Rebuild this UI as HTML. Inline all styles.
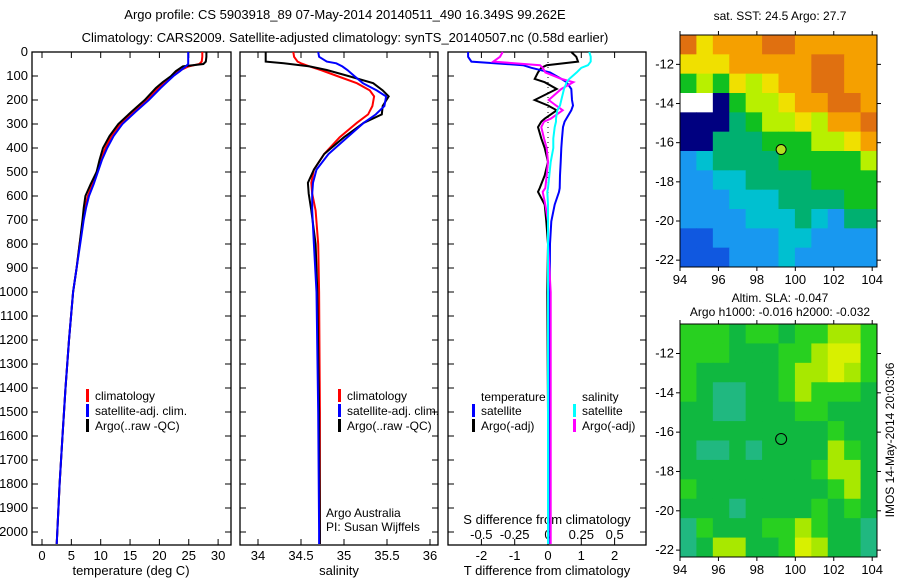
<!DOCTYPE html>
<html><head><meta charset="utf-8"><style>
body{margin:0;background:#fff;}
svg{display:block;font-family:"Liberation Sans",sans-serif;}
</style></head><body>
<svg id="c" width="900" height="580" viewBox="0 0 900 580">
<text x="345" y="19" font-size="13" text-anchor="middle">Argo profile: CS 5903918_89 07-May-2014 20140511_490 16.349S 99.262E</text>
<text x="345" y="42" font-size="13" text-anchor="middle">Climatology: CARS2009. Satellite-adjusted climatology: synTS_20140507.nc (0.58d earlier)</text>
<text x="780" y="20" font-size="12" text-anchor="middle">sat. SST: 24.5 Argo: 27.7</text>
<text x="780" y="302" font-size="12" text-anchor="middle">Altim. SLA: -0.047</text>
<text x="780" y="316" font-size="12" text-anchor="middle">Argo h1000: -0.016 h2000: -0.032</text>
<text transform="translate(894,440) rotate(-90)" font-size="12" text-anchor="middle">IMOS 14-May-2014 20:03:06</text>
<g id="g"></g>
</svg>
<script>
const depths=[0,20,40,50,60,80,100,125,150,200,250,300,350,400,450,500,550,600,650,700,800,900,1000,1200,1400,1600,1800,2000,2050];
const tempArgo=[28,28,27.9,27.5,24,22.8,22,20.6,19.4,17.5,15.2,13,11.5,10.4,9.8,9.3,8.3,7.4,7.1,6.9,6.4,5.9,5.3,4.6,4.0,3.5,3.0,2.6,2.5];
const tempClim=[27.3,27.3,27.2,26.8,25,23.2,22.2,21,19.8,17.8,15.5,13.3,11.8,10.8,10.0,9.3,8.6,7.8,7.3,7.0,6.4,5.9,5.3,4.6,4.0,3.5,3.0,2.6,2.5];
const tempSat=[24.9,24.9,24.9,24.9,24.5,23.5,22.4,21.3,20.2,18.2,15.9,13.7,12.2,11.1,10.2,9.5,8.8,8.0,7.5,7.1,6.5,5.9,5.3,4.6,4.0,3.5,3.0,2.6,2.5];
const sDepths=[0,20,40,47,60,75,100,130,160,185,225,260,295,355,425,490,545,590,660,800,1000,1500,2000,2050];
const salArgo=[34.09,34.09,34.09,34.3,34.6,34.8,35.05,35.34,35.45,35.52,35.45,35.44,35.23,35.0,34.77,34.65,34.58,34.59,34.62,34.67,34.69,34.71,34.72,34.72];
const salClim=[34.41,34.42,34.46,34.5,34.6,34.73,34.92,35.15,35.3,35.35,35.33,35.28,35.15,34.95,34.77,34.65,34.62,34.63,34.67,34.7,34.71,34.72,34.72,34.72];
const salSat=[34.70,34.71,34.8,34.91,34.98,35.04,35.12,35.22,35.38,35.49,35.47,35.37,35.23,35.04,34.82,34.68,34.64,34.63,34.63,34.65,34.68,34.7,34.71,34.71];
const dDepths=[0,20,40,55,66,85,112,126,154,200,223,243,278,290,313,360,400,458,514,567,583,636,706,800,1000,1500,2000,2050];
const dTSat=[-2.4,-2.4,-2.3,-0.75,-0.5,0.06,0.4,0.56,0.7,0.72,0.75,0.7,0.55,0.5,0.45,0.42,0.4,0.38,0.36,0.35,0.33,0.2,0.1,0.06,0.05,0.03,0.02,0.02];
const dTArgo=[0.7,0.85,0.9,-0.04,-0.2,-0.3,-0.4,-0.1,0.26,-0.4,0.0,0.26,-0.1,-0.2,-0.3,-0.2,-0.1,0,-0.1,-0.25,-0.3,-0.1,-0.05,0,-0.02,0,0.01,0.01];
const dSSat=[0.31,0.32,0.32,0.3,0.25,0.215,0.16,0.14,0.12,0.1,0.09,0.07,0.06,0.06,0.05,0.04,0.04,0.02,0.01,0,-0.005,0,0,0,0,0,0,0];
const dSArgo=[-0.34,-0.36,-0.41,-0.06,-0.04,-0.02,0.1,0.19,0.1,0.005,0.06,0.11,0.02,-0.03,-0.05,-0.03,-0.01,0.0,-0.01,-0.02,-0.04,-0.02,0.0,0.0,0.02,0.02,0.02,0.02];
const depthTicks=[0,100,200,300,400,500,600,700,800,900,1000,1100,1200,1300,1400,1500,1600,1700,1800,1900,2000];
const tempTicks=[0,5,10,15,20,25,30];
const salTicks=[34,34.5,35,35.5,36];
const salTickLabels=["34","34.5","35","35.5","36"];
const dTTicks=[-2,-1,0,1,2];
const dSTicks=[-0.5,-0.25,0,0.25,0.5];
const dSTickLabels=["-0.5","-0.25","0","0.25","0.5"];
const lonTicks=[94,96,98,100,102,104];
const latTicks=[-12,-14,-16,-18,-20,-22];
const sstRows=["RYOOORROOOOO","YYYOOOOORROO","GLGYLYOORROO","WWNGLLYOORRO","NNNgGLLYLOOR","NNgggGGGLLYO","BCggggGGGGGL","BBCCggggGGGG","BBBCCCggggGG","BBBBCCCgCBgg","bbBBBBCCBBBB","bbbBBBCBBBBB"];
const slaRows=["GGGgGGgGGLLG","GGGgggGGLYYG","GgggggGLLYLG","GgTTggGLGGGg","ggTTgggGGggg","gggggggggGgg","gTTgTggggLGg","ggggggggGLLg","GggggggggGLg","gggTggggGgGg","TGgggGGLGggT","TgLLggGYLggT"];
const sstColors={R:"#e07010",O:"#f5a000",Y:"#f0e000",L:"#b8f000",G:"#10c020",g:"#00b070",C:"#00c0d0",B:"#1898f0",b:"#1058e0",N:"#000080",W:"#ffffff"};
const slaColors={G:"#28d020",g:"#10b840",L:"#a8e800",Y:"#d8f000",T:"#20b880"};
const floatLon=99.262, floatLat=-16.349;

const NS="http://www.w3.org/2000/svg";
const G=document.getElementById('g');
function el(t,a,p){const e=document.createElementNS(NS,t);for(const k in a)e.setAttribute(k,a[k]);(p||G).appendChild(e);return e;}
const yD=d=>52+d*0.24;
const yTop=52,bot=545;
const panels=[{x0:32,x1:231},{x0:240,x1:438},{x0:448,x1:646}];
const xT=t=>42+t*5.87, xS=s=>258+(s-34)*86, xdT=v=>548+v*33.3, xdS=v=>548+v*133.3;

panels.forEach((p,i)=>{
  const r=el('rect',{x:p.x0,y:yTop,width:p.x1-p.x0,height:bot-yTop,fill:'none',stroke:'#000','stroke-width':1.3});
  
  
  depthTicks.forEach(d=>{
    el('line',{x1:p.x0,x2:p.x0+6,y1:yD(d),y2:yD(d),stroke:'#000'});
    el('line',{x1:p.x1-6,x2:p.x1,y1:yD(d),y2:yD(d),stroke:'#000'});
  });
});
depthTicks.forEach(d=>{
  const t=el('text',{x:28,y:yD(d)+4,'font-size':13,'text-anchor':'end'});t.textContent=d;
  
  
});
function xAxis(ticks,labels,fx,p,name){
  ticks.forEach((v,i)=>{
    const x=fx(v);
    el('line',{x1:x,x2:x,y1:bot,y2:bot-6,stroke:'#000'});
    el('line',{x1:x,x2:x,y1:yTop,y2:yTop+6,stroke:'#000'});
    const t=el('text',{x:x,y:560,'font-size':13,'text-anchor':'middle'});t.textContent=labels[i];
    
    
  });
}
xAxis(tempTicks,tempTicks,xT,panels[0],'temperature');
xAxis(salTicks,salTickLabels,xS,panels[1],'salinity');
xAxis(dTTicks,dTTicks,xdT,panels[2],'t-diff');
dSTicks.forEach((v,i)=>{
  const t=el('text',{x:xdS(v),y:539,'font-size':13,'text-anchor':'middle'});t.textContent=dSTickLabels[i];
  
  
});
function label(x,y,s,name,anchor,size){const t=el('text',{x:x,y:y,'font-size':size||12,'text-anchor':anchor||'middle'});t.textContent=s;
  
  return t;}
label(131,575,'temperature (deg C)','x-axis-title-temperature','middle',13);
label(339,575,'salinity','x-axis-title-salinity','middle',13);
label(547,575,'T difference from climatology','x-axis-title-t-diff','middle',13);
label(547,524,'S difference from climatology','s-diff-axis-title','middle',13);
label(326,517,'Argo Australia','credit-line-1','start');
label(326,531,'PI: Susan Wijffels','credit-line-2','start');

el('line',{x1:548,x2:548,y1:yTop,y2:bot,stroke:'#000','stroke-dasharray':'1,4'});

function series(ys,xs,fx,color,name){
  const pts=ys.map((d,i)=>fx(xs[i]).toFixed(1)+','+yD(d).toFixed(1)).join(' ');
  const l=el('polyline',{points:pts,fill:'none',stroke:color,'stroke-width':2});
  
  
}
series(depths,tempClim,xT,'#ff0000','temp-climatology-line');
series(depths,tempArgo,xT,'#000','temp-argo-line');
series(depths,tempSat,xT,'#0000ff','temp-satellite-line');
series(sDepths,salClim,xS,'#ff0000','sal-climatology-line');
series(sDepths,salArgo,xS,'#000','sal-argo-line');
series(sDepths,salSat,xS,'#0000ff','sal-satellite-line');
series(dDepths,dTArgo,xdT,'#000','tdiff-argo-line');
series(dDepths,dTSat,xdT,'#0000ff','tdiff-satellite-line');
series(dDepths,dSArgo,xdS,'#ff00ff','sdiff-argo-line');
series(dDepths,dSSat,xdS,'#00ffff','sdiff-satellite-line');

function legend(x,y,color,txt,name){
  el('rect',{x:x,y:y-9,width:3,height:13,fill:color});
  label(x+9,y+2,txt,name,'start');
}
legend(86,398,'#ff0000','climatology','legend-temp-climatology');
legend(86,413,'#0000ff','satellite-adj. clim.','legend-temp-satellite');
legend(86,428,'#000','Argo(..raw -QC)','legend-temp-argo');
legend(338,398,'#ff0000','climatology','legend-sal-climatology');
legend(338,413,'#0000ff','satellite-adj. clim.','legend-sal-satellite');
legend(338,428,'#000','Argo(..raw -QC)','legend-sal-argo');
label(481,401,'temperature','legend-temperature-heading','start');
label(582,401,'salinity','legend-salinity-heading','start');
legend(472,413,'#0000ff','satellite','legend-tdiff-satellite');
legend(472,428,'#000','Argo(-adj)','legend-tdiff-argo');
legend(573,413,'#00ffff','satellite','legend-sdiff-satellite');
legend(573,428,'#ff00ff','Argo(-adj)','legend-sdiff-argo');

function map(rows,colors,y0,y1,latTop,latBot,name){
  const x0=680,x1=877,lonL=94,lonR=104.25;
  const fx=lon=>x0+(lon-lonL)/(lonR-lonL)*(x1-x0);
  const fy=lat=>y0+(latTop-lat)/(latTop-latBot)*(y1-y0);
  const nr=rows.length,nc=rows[0].length;
  const cw=(x1-x0)/nc,ch=(y1-y0)/nr;
  rows.forEach((row,r)=>{for(let c=0;c<nc;c++){
    const cell=el('rect',{x:x0+c*cw,y:y0+r*ch,width:cw+0.5,height:ch+0.5,fill:colors[row[c]]});
    
    
  }});
  const f=el('rect',{x:x0,y:y0,width:x1-x0,height:y1-y0,fill:'none',stroke:'#000'});
  
  
  lonTicks.forEach(l=>{const x=fx(l);
    el('line',{x1:x,x2:x,y1:y1,y2:y1+4,stroke:'#000'});el('line',{x1:x,x2:x,y1:y0,y2:y0-4,stroke:'#000'});
    label(x,y1+17,l,name+'-lon-label','middle',13);});
  latTicks.forEach(l=>{const y=fy(l);
    el('line',{x1:x0,x2:x0-4,y1:y,y2:y,stroke:'#000'});el('line',{x1:x1,x2:x1+4,y1:y,y2:y,stroke:'#000'});
    label(x0-6,y+4,l,name+'-lat-label','end',13);});
  return {fx,fy};
}
const m1=map(sstRows,sstColors,35,267,-10.5,-22.35,'sst-map');
const c1=el('circle',{cx:m1.fx(floatLon),cy:m1.fy(floatLat),r:5,fill:'#b0e020',stroke:'#000'});


const m2=map(slaRows,slaColors,324,557,-10.5,-22.35,'sla-map');
const c2=el('circle',{cx:m2.fx(floatLon),cy:m2.fy(floatLat),r:5.5,fill:'none',stroke:'#000'});


</script>
</body></html>
